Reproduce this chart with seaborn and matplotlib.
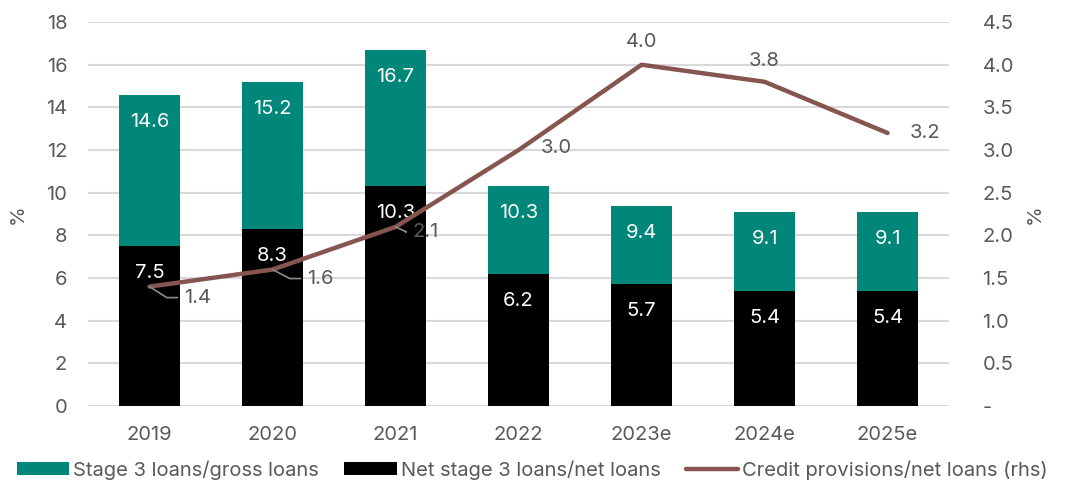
import numpy as np
import pandas as pd
import matplotlib
matplotlib.use("Agg")
import matplotlib.pyplot as plt
from matplotlib.patches import Patch
from matplotlib.lines import Line2D
import seaborn as sns

years = ["2019", "2020", "2021", "2022", "2023e", "2024e", "2025e"]
stage3_gross = [14.6, 15.2, 16.7, 10.3, 9.4, 9.1, 9.1]
net_stage3 = [7.5, 8.3, 10.3, 6.2, 5.7, 5.4, 5.4]
provisions = [1.4, 1.6, 2.1, 3.0, 4.0, 3.8, 3.2]

left_ticks = [0, 2, 4, 6, 8, 10, 12, 14, 16, 18]
right_ticks = [0, 0.5, 1.0, 1.5, 2.0, 2.5, 3.0, 3.5, 4.0, 4.5]
right_tick_labels = ["-", "0.5", "1.0", "1.5", "2.0", "2.5", "3.0", "3.5", "4.0", "4.5"]

TEAL = "#00877A"
BROWN = "#875550"
GREY = "#595959"
GRID = "#D9D9D9"
FS = 14.5

sns.set_theme(style="white")
plt.rcParams["font.family"] = ["Inter", "DejaVu Sans"]

df = pd.DataFrame({"year": years, "gross": stage3_gross, "net": net_stage3,
                   "prov": provisions})

fig = plt.figure(figsize=(10.67, 4.80), dpi=100)
ax = fig.add_axes([0.0825, 0.154, 0.807, 0.800])

sns.barplot(data=df, x="year", y="gross", color=TEAL, width=0.5,
            saturation=1, linewidth=0, ax=ax, zorder=2)
sns.barplot(data=df, x="year", y="net", color="black", width=0.5,
            saturation=1, linewidth=0, ax=ax, zorder=3)

ax.set_ylim(0, 18)
ax.set_yticks(left_ticks)
ax.set_xlim(-0.5, 6.5)
ax.grid(axis="y", color=GRID, linewidth=1.5, zorder=0)
ax.set_axisbelow(True)
for s in ax.spines.values():
    s.set_visible(False)
ax.tick_params(axis="y", length=0, pad=15, labelsize=FS, labelcolor=GREY)
ax.tick_params(axis="x", length=0, pad=14, labelsize=FS, labelcolor=GREY)
ax.set_xlabel("")
ax.set_ylabel("")

# value labels inside the bars
for i, (g, n) in enumerate(zip(stage3_gross, net_stage3)):
    ax.annotate(f"{g:.1f}", (i, g), xytext=(0, -27), textcoords="offset pixels",
                ha="center", va="center", color="white", fontsize=FS, zorder=5)
    ax.annotate(f"{n:.1f}", (i, n), xytext=(0, -27), textcoords="offset pixels",
                ha="center", va="center", color="white", fontsize=FS, zorder=5)

# credit provisions on the right-hand axis
ax2 = ax.twinx()
sns.lineplot(x=np.arange(len(years)), y=provisions, color=BROWN, linewidth=3.2,
             ax=ax2, zorder=4)
ax2.set_ylim(0, 4.5)
ax2.set_xlim(-0.5, 6.5)
ax2.set_yticks(right_ticks)
ax2.set_yticklabels(right_tick_labels)
for s in ax2.spines.values():
    s.set_visible(False)
ax2.tick_params(axis="y", length=0, pad=24, labelsize=FS, labelcolor=GREY)
ax2.set_ylabel("")

# axis titles
fig.text(18 / 1067, 1 - 214 / 480, "%", rotation=90, ha="center", va="center",
         fontsize=FS, color=GREY)
fig.text(1035 / 1067, 1 - 214 / 480, "%", rotation=90, ha="center", va="center",
         fontsize=FS, color=GREY)

# labels for the provisions line (pixel offsets from each point)
offsets = [(48, -11), (48, -9), (30, -5), (38, 2), (0, 23), (0, 21), (37, 0)]
leader = [True, True, True, False, False, False, False]
for i, (v, off, ld) in enumerate(zip(provisions, offsets, leader)):
    ax2.annotate(f"{v:.1f}", (i, v), xytext=off, textcoords="offset pixels",
                 ha="center", va="center", color=GREY, fontsize=FS, zorder=6)
    if ld:
        ox, oy = off
        x0, y0 = ax2.transData.transform((i, v))
        pts = [(x0, y0), (x0 + ox * 0.36, y0 + oy), (x0 + ox - 20, y0 + oy)]
        inv = ax2.transData.inverted()
        dpts = inv.transform(pts)
        ax2.plot(dpts[:, 0], dpts[:, 1], color="#8C8C8C", linewidth=1.2, zorder=5)

handles = [Patch(facecolor=TEAL, edgecolor="none"),
           Patch(facecolor="black", edgecolor="none"),
           Line2D([0], [0], color=BROWN, linewidth=3.2)]
labels = ["Stage 3 loans/gross loans", "Net stage 3 loans/net loans",
          "Credit provisions/net loans (rhs)"]
fig.legend(handles, labels, loc="center left", bbox_to_anchor=(0.016, 1 - 470 / 480),
           ncol=3, frameon=False, fontsize=14.5, labelcolor=GREY,
           handlelength=2.6, handleheight=0.6, handletextpad=0.2,
           columnspacing=1.25, borderpad=0, borderaxespad=0)

fig.savefig("out.png", dpi=100)
